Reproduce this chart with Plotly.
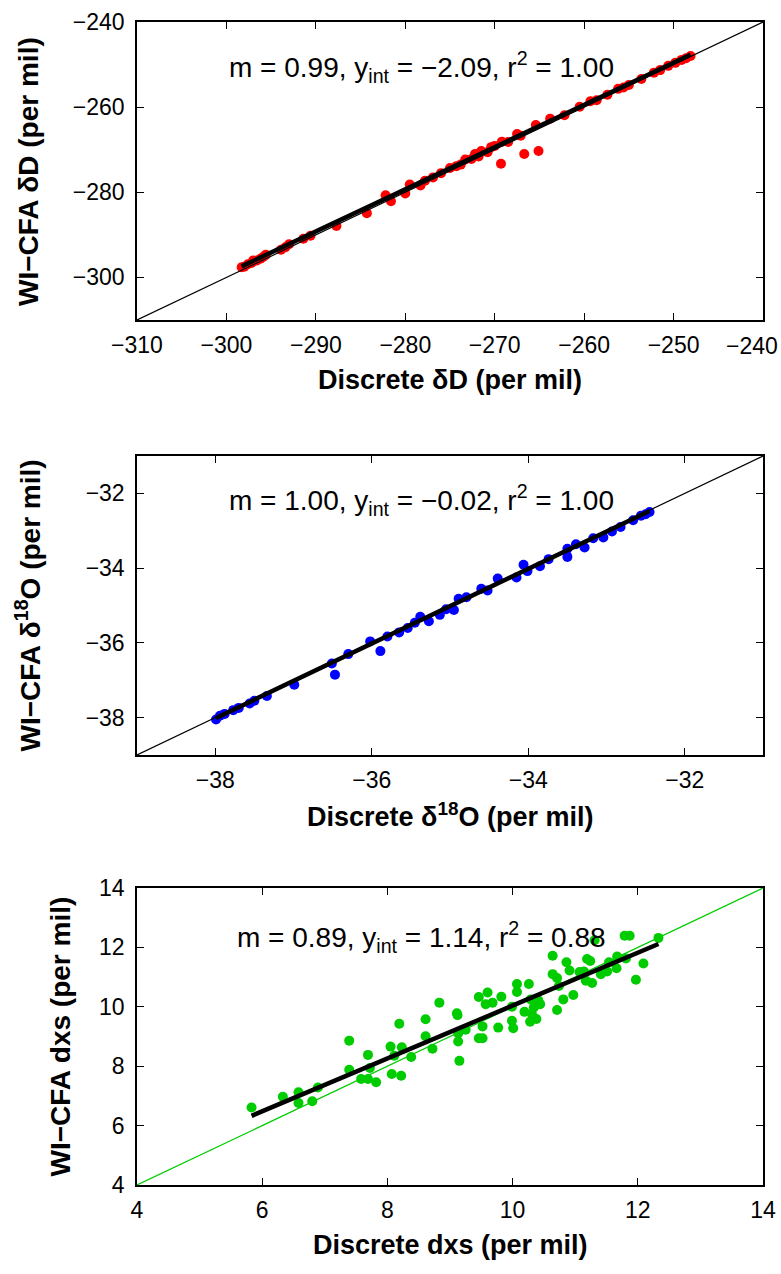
import plotly.graph_objects as go

# ---------------- data ----------------
dD_discrete = [-298.3, -298.0, -297.6, -297.2, -297.0, -296.6, -296.2, -295.9, -295.6,
               -293.9, -293.4, -293.0, -291.4, -290.6, -287.7, -284.3, -282.2, -281.6,
               -280.0, -279.5, -278.3, -277.8, -276.9, -276.0, -275.0, -274.3, -273.8,
               -273.3, -272.6, -272.2, -271.8, -271.5, -270.8, -270.4, -270.0, -269.3,
               -269.2, -268.5, -267.5, -267.1, -266.7, -265.4, -265.1, -263.8, -262.2,
               -260.5, -259.3, -258.6, -257.4, -256.2, -255.6, -255.0, -253.6, -252.2,
               -251.5, -250.6, -249.8, -249.1, -248.6, -248.1]
dD_cfa = [-297.6, -297.5, -296.9, -296.6, -296.0, -296.0, -295.6, -295.2, -294.7,
          -293.5, -292.9, -292.2, -290.9, -290.2, -287.9, -284.9, -280.7, -282.1,
          -280.3, -278.2, -278.4, -277.3, -276.5, -275.5, -274.3, -273.9, -273.5,
          -272.3, -272.2, -271.0, -271.6, -270.3, -270.6, -269.4, -269.1, -273.3,
          -268.1, -268.2, -266.3, -266.7, -271.0, -264.2, -270.3, -262.7, -261.9,
          -259.9, -258.6, -258.4, -257.1, -255.7, -255.4, -254.8, -253.4, -251.9,
          -251.3, -250.3, -249.6, -248.9, -248.5, -248.0]
dD_fit = [0.99, -2.09, 1.00]  # slope, intercept, r^2
dD_ticks = [-310, -300, -290, -280, -270, -260, -250, -240]

d18O_discrete = [-37.99, -37.94, -37.88, -37.77, -37.70, -37.56, -37.50, -37.34, -36.99,
                 -36.51, -36.47, -36.30, -36.02, -35.89, -35.80, -35.65, -35.54, -35.45,
                 -35.38, -35.27, -35.13, -35.05, -34.95, -34.89, -34.79, -34.60, -34.52,
                 -34.39, -34.15, -34.06, -34.01, -33.85, -33.74, -33.50, -33.50, -33.39,
                 -33.28, -33.17, -33.04, -32.93, -32.82, -32.66, -32.56, -32.50, -32.45]
d18O_cfa = [-38.05, -37.95, -37.90, -37.80, -37.74, -37.62, -37.55, -37.42, -37.12,
            -36.55, -36.85, -36.30, -35.96, -36.22, -35.83, -35.72, -35.60, -35.46,
            -35.30, -35.42, -35.25, -35.10, -35.12, -34.82, -34.78, -34.55, -34.60,
            -34.28, -34.25, -33.91, -34.08, -33.95, -33.76, -33.70, -33.48, -33.36,
            -33.45, -33.20, -33.18, -33.02, -32.90, -32.72, -32.60, -32.56, -32.50]
d18O_fit = [1.00, -0.02, 1.00]

dxs_discrete = [5.83, 6.33, 6.58, 6.58, 6.80, 6.89, 7.39, 7.39, 7.58, 7.69, 7.69, 7.72,
                7.82, 8.05, 8.07, 8.11, 8.19, 8.22, 8.23, 8.38, 8.61, 8.61, 8.72, 8.83,
                9.11, 9.12, 9.13, 9.13, 9.15, 9.25, 9.46, 9.46, 9.52, 9.52, 9.57, 9.60,
                9.68, 9.77, 9.82, 9.99, 9.99, 10.01, 10.07, 10.07, 10.19, 10.26, 10.28,
                10.29, 10.31, 10.34, 10.38, 10.41, 10.44, 10.64, 10.64, 10.71, 10.71,
                10.74, 10.81, 10.86, 10.91, 10.97, 11.07, 11.14, 11.17, 11.19, 11.24,
                11.27, 11.31, 11.41, 11.51, 11.54, 11.66, 11.67, 11.79, 11.81, 11.87,
                11.97, 12.09, 12.33]
dxs_cfa = [6.61, 6.97, 7.12, 6.76, 6.82, 7.28, 8.86, 7.88, 7.57, 7.57, 8.38, 7.94,
           7.46, 8.66, 7.74, 8.35, 9.43, 7.68, 8.64, 8.31, 9.58, 9.01, 8.59, 10.14,
           9.78, 9.72, 9.10, 8.83, 8.18, 9.23, 10.33, 8.94, 8.94, 9.34, 10.09, 10.48,
           10.14, 9.30, 10.34, 10.00, 9.53, 9.28, 10.77, 10.50, 9.83, 10.77, 9.50,
           10.25, 9.75, 9.98, 9.59, 10.22, 10.09, 11.72, 11.10, 9.89, 10.97,
           10.70, 10.25, 11.50, 11.22, 10.40, 11.17, 11.19, 10.88, 11.61, 11.54,
           10.80, 12.24, 11.10, 11.19, 11.50, 11.30, 11.69, 12.39, 11.63, 12.39,
           10.91, 11.46, 12.32]
dxs_fit = [0.89, 1.14, 0.88]

# ---------------- layout helpers ----------------
FONT = "Liberation Sans, Arial, sans-serif"
W, H = 781, 1274
ML, MR, MT, MB = 137, 18, 22, 89
plot_h = H - MT - MB
plot_w = W - ML - MR


def dom(top_px, bot_px):
    return [(H - MB - bot_px) / plot_h, (H - MB - top_px) / plot_h]


def px_x(px):
    return (px - ML) / plot_w


def px_y(py):
    return (H - MB - py) / plot_h


panels = [
    dict(x=dD_discrete, y=dD_cfa, fit=dD_fit, color="#ff0000", one_color="black",
         rng=[-310, -240], xd=10, yd=20, top=22, bot=320, ytx=28,
         xt="<b>Discrete δD (per mil)</b>", yt="<b>WI−CFA δD (per mil)</b>", ty=0.85),
    dict(x=d18O_discrete, y=d18O_cfa, fit=d18O_fit, color="#0000ff", one_color="black",
         rng=[-39, -31], xd=2, yd=2, top=456, bot=755, ytx=28,
         xt="<b>Discrete δ<sup>18</sup>O (per mil)</b>",
         yt="<b>WI−CFA δ<sup>18</sup>O (per mil)</b>", ty=0.853),
    dict(x=dxs_discrete, y=dxs_cfa, fit=dxs_fit, color="#00cc00", one_color="#00cc00",
         rng=[4, 14], xd=2, yd=2, top=888, bot=1185, ytx=60,
         xt="<b>Discrete dxs (per mil)</b>", yt="<b>WI−CFA dxs (per mil)</b>", ty=0.835),
]

fig = go.Figure()
annotations = []
for i, p in enumerate(panels, start=1):
    xa = "x" if i == 1 else f"x{i}"
    ya = "y" if i == 1 else f"y{i}"
    m, b, r2 = p["fit"]
    xmin, xmax = min(p["x"]), max(p["x"])
    fig.add_trace(go.Scatter(x=p["x"], y=p["y"], mode="markers", xaxis=xa, yaxis=ya,
                             marker=dict(color=p["color"], size=10, line=dict(width=0)),
                             showlegend=False))
    fig.add_trace(go.Scatter(x=p["rng"], y=p["rng"], mode="lines", xaxis=xa, yaxis=ya,
                             line=dict(color=p["one_color"], width=1.2), showlegend=False))
    fig.add_trace(go.Scatter(x=[xmin, xmax], y=[m * xmin + b, m * xmax + b], mode="lines",
                             xaxis=xa, yaxis=ya, line=dict(color="black", width=4.5),
                             showlegend=False))
    axis_common = dict(range=p["rng"], showline=True, linecolor="black", linewidth=1.5,
                       mirror="ticks", ticks="inside", ticklen=7, tickwidth=1.2,
                       tickcolor="black", showgrid=False, zeroline=False,
                       automargin=False, ticklabeloverflow="allow",
                       tickfont=dict(family=FONT, size=23, color="black"))
    key = "" if i == 1 else str(i)
    xaxis_cfg = dict(axis_common, domain=[0, 1], anchor=ya, dtick=p["xd"],
                     ticklabelstandoff=4)
    if i == 1:
        # last label (at the right page edge) is drawn right-aligned so it is not cut
        xaxis_cfg.update(tickmode="array", tickvals=dD_ticks,
                         ticktext=[f"−{abs(v)}" for v in dD_ticks[:-1]] + [""])
        annotations.append(dict(text=f"−{abs(dD_ticks[-1])}", xref="paper", yref="paper",
                                x=px_x(780), y=px_y(346), xanchor="right",
                                yanchor="middle", showarrow=False,
                                font=dict(family=FONT, size=23, color="black")))
    fig.update_layout(**{
        f"xaxis{key}": xaxis_cfg,
        f"yaxis{key}": dict(axis_common, domain=dom(p["top"], p["bot"]), anchor=xa,
                             dtick=p["yd"], ticklabelstandoff=6),
    })
    sign = "−" if b < 0 else ""
    txt = (f"m = {m:.2f}, y<sub>int</sub> = {sign}{abs(b):.2f}, "
           f"r<sup>2</sup> = {r2:.2f}")
    annotations.append(dict(text=txt, xref=f"{xa} domain", yref=f"{ya} domain",
                            x=0.455, y=p["ty"], showarrow=False,
                            xanchor="center", yanchor="middle",
                            font=dict(family=FONT, size=28, color="black")))
    # axis titles
    annotations.append(dict(text=p["xt"], xref="paper", yref="paper",
                            x=px_x(450), y=px_y(p["bot"] + 60), showarrow=False,
                            xanchor="center", yanchor="middle",
                            font=dict(family=FONT, size=27, color="black")))
    annotations.append(dict(text=p["yt"], xref="paper", yref="paper", textangle=-90,
                            x=px_x(p["ytx"]), y=px_y((p["top"] + p["bot"]) / 2),
                            showarrow=False, xanchor="center", yanchor="middle",
                            font=dict(family=FONT, size=28, color="black")))

fig.update_layout(width=W, height=H, margin=dict(l=ML, r=MR, t=MT, b=MB),
                  paper_bgcolor="white", plot_bgcolor="white",
                  annotations=annotations, font=dict(family=FONT))
fig.write_html("out.html")
